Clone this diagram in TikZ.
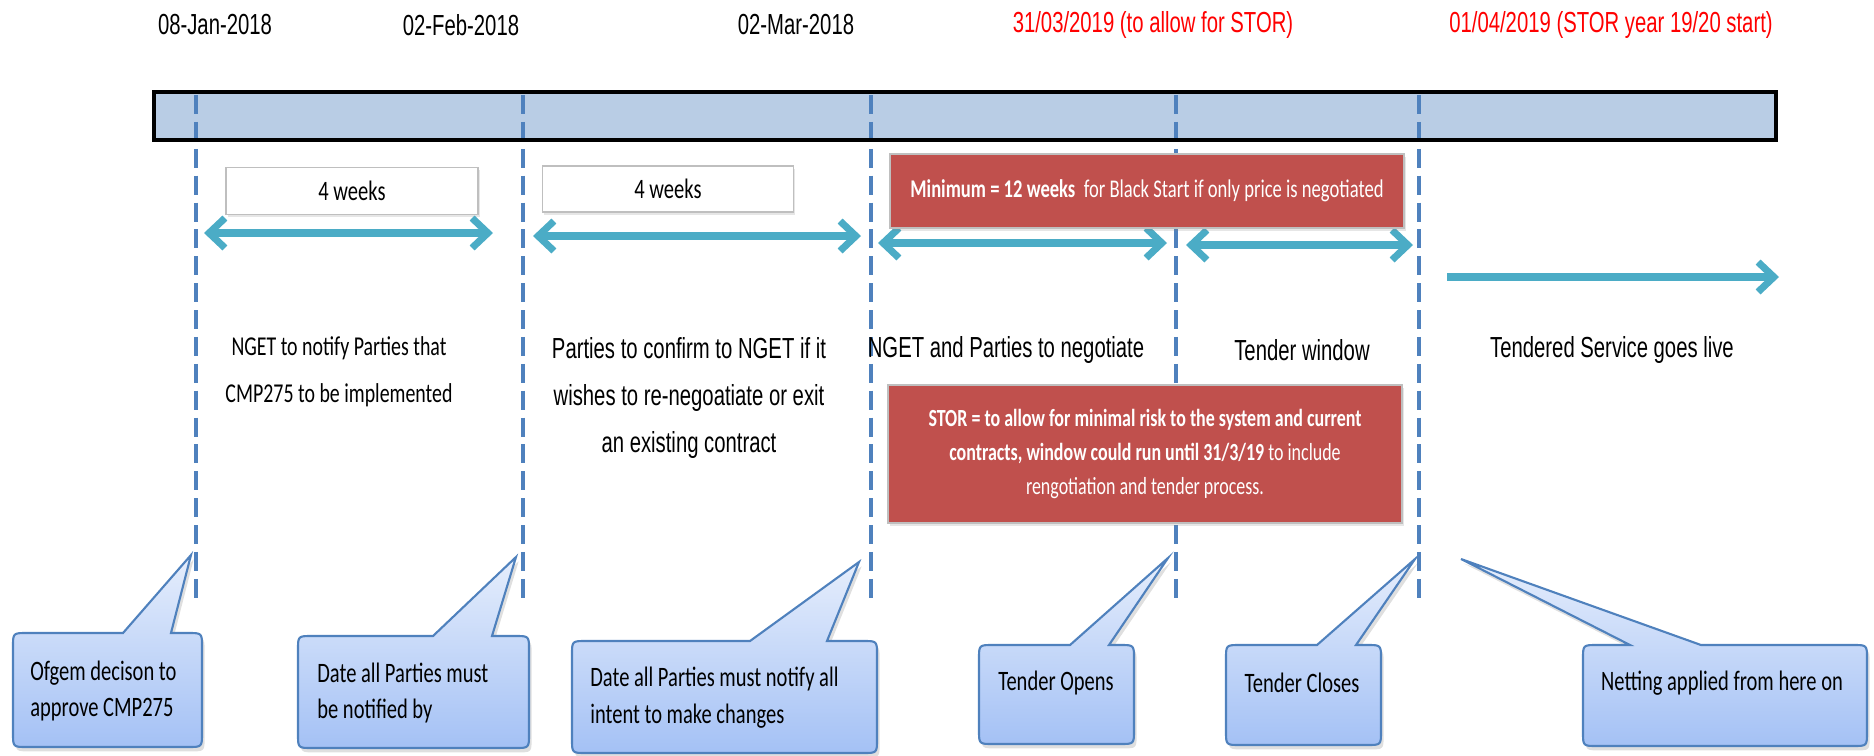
\documentclass[tikz,border=0pt]{standalone}
\usepackage{fontspec}
\newfontfamily\arialn[FakeStretch=0.7]{Liberation Sans}
\newfontfamily\calibn[FakeStretch=0.73]{Carlito}
\usetikzlibrary{arrows.meta,shadows}

\definecolor{barblue}{HTML}{B9CDE5}
\definecolor{lineblue}{HTML}{4F81BD}
\definecolor{spanteal}{HTML}{4BACC6}
\definecolor{boxred}{HTML}{C0504D}
\definecolor{calltop}{HTML}{E6EEFC}
\definecolor{callbot}{HTML}{A4C1F5}

\begin{document}
\begin{tikzpicture}[x=0.02cm,y=-0.02cm,
	datelabel/.style={font=\arialn\fontsize{16.5}{20}\selectfont},
	phasetext/.style={font=\arialn\fontsize{16.5}{26.6}\selectfont,align=center},
	notetext/.style={font=\calibn\fontsize{15.5}{26.6}\selectfont,align=center},
	calltext/.style={font=\calibn\fontsize{16}{21}\selectfont,align=left,inner sep=0pt},
	weekbox/.style={draw=black!25,fill=white,line width=0.8pt,font=\calibn\fontsize{16}{20}\selectfont,
		drop shadow={opacity=0.2,shadow xshift=1pt,shadow yshift=-1.5pt}},
	redbox/.style={draw=black!25,fill=boxred,text=white,line width=0.8pt,align=center,
		drop shadow={opacity=0.2,shadow xshift=1pt,shadow yshift=-1.5pt}},
	milestone/.style={draw=lineblue,line width=2pt,dash pattern=on 10.8pt off 4.5pt},
	spanarrow/.style={draw=spanteal,line width=4pt},
	callout/.style={top color=calltop,bottom color=callbot,draw=lineblue,line width=1.2pt,
		drop shadow={opacity=0.25,shadow xshift=1.5pt,shadow yshift=-2.5pt}}]

\useasboundingbox (0,0) rectangle (1874,755);

\fill[barblue] (154,92) rectangle (1776,140);

\foreach \n/\x in {jan/196,feb/523,mar/871,open/1176,close/1419}{
	\coordinate (\n-top) at (\x,95);
	\coordinate (\n-bot) at (\x,603);
	\draw[milestone] (\n-top) -- (\n-bot);
}

\draw[line width=2.3pt] (154,92) rectangle (1776,140);

\node[datelabel] (d1) at (215,25) {08-Jan-2018};
\node[datelabel] (d2) at (461,25) {02-Feb-2018};
\node[datelabel] (d3) at (796,25) {02-Mar-2018};
\node[datelabel,text=red] (d4) at (1153,25) {31/03/2019 (to allow for STOR)};
\node[datelabel,text=red] (d5) at (1611,25) {01/04/2019 (STOR year 19/20 start)};

\node[weekbox,minimum width=5.04cm,minimum height=0.94cm] (wk1) at (352,191) {4 weeks};
\node[weekbox,minimum width=5.02cm,minimum height=0.92cm] (wk2) at (668,189) {4 weeks};

\foreach \n/\xa/\xb/\y in {s1/204/493/233,s2/533/861/236,s3/878/1167/243,s4/1186/1413/245}{
	\coordinate (\n-l) at (\xa,\y);
	\coordinate (\n-r) at (\xb,\y);
	\draw[spanarrow,{Straight Barb[length=9pt,width=17pt]}-{Straight Barb[length=9pt,width=17pt]}] (\n-l) -- (\n-r);
}
\coordinate (live-l) at (1447,277);
\coordinate (live-r) at (1779,277);
\draw[spanarrow,-{Straight Barb[length=9pt,width=17pt]}] (live-l) -- (live-r);

\node[redbox,minimum width=10.28cm,minimum height=1.48cm,font=\calibn\fontsize{14.5}{18}\selectfont] (minimum) at (1147,191)
	{\textbf{Minimum = 12 weeks}\ \ for Black Start if only price is negotiated};

\node[notetext] (notify) at (339,372) {NGET to notify Parties that\\CMP275 to be implemented};
\node[phasetext] (confirm) at (689,398) {Parties to confirm to NGET if it\\wishes to re-negoatiate or exit\\an existing contract};
\node[phasetext] (negotiate) at (1006,350) {NGET and Parties to negotiate};
\node[phasetext] (window) at (1302,350) {Tender window};
\node[phasetext] (live) at (1612,350) {Tendered Service goes live};

\node[redbox,minimum width=10.28cm,minimum height=2.76cm,font=\calibn\fontsize{14}{19.3}\selectfont] (stor) at (1145,454)
	{\textbf{STOR = to allow for minimal risk to the system and current}\\
	 \textbf{contracts, window could run until 31/3/19} to include\\
	 rengotiation and tender process.};

\foreach \l/\t/\r/\b/\pa/\pb/\tx/\ty in {13/633/202/747/123/171/191/555,
		298/636/529/748/433/492/516/557,
		572/641/877/753/750/827/859/562,
		979/645/1134/744/1070/1109/1168/558,
		1226/645/1381/745/1317/1356/1415/559,
		1583/645/1867/746/1630/1701/1461/559}{
	\shade[callout] (\pa,\t) -- (\tx,\ty) -- (\pb,\t) -- ({\r-14},\t) .. controls (\r,\t) .. (\r,{\t+14})
		-- (\r,{\b-14}) .. controls (\r,\b) .. ({\r-14},\b) -- ({\l+14},\b) .. controls (\l,\b) .. (\l,{\b-14})
		-- (\l,{\t+14}) .. controls (\l,\t) .. ({\l+14},\t) -- cycle;
}

\node[calltext,anchor=west] (ofgem) at (30,691) {Ofgem decison to\\approve CMP275};
\node[calltext,anchor=west] (notified) at (317,693) {Date all Parties must\\be notified by};
\node[calltext,anchor=west] (intent) at (590,698) {Date all Parties must notify all\\intent to make changes};
\node[calltext] (opens) at (1056,683) {Tender Opens};
\node[calltext] (closes) at (1302,683) {Tender Closes};
\node[calltext] (netting) at (1722,683) {Netting applied from here on};

\end{tikzpicture}
\end{document}
